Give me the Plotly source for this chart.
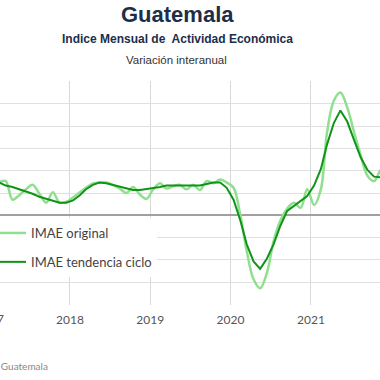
import plotly.graph_objects as go

months = ["2016-12"] + [f"{y}-{m:02d}" for y in range(2017, 2022) for m in range(1, 13)]
dates = [m + "-15" for m in months]

imae_original = [
    4.0,
    4.3, 4.5, 4.6, 2.1, 2.7, 3.5, 4.1, 2.9, 1.7, 3.1, 1.7, 1.8,
    2.4, 3.1, 3.7, 4.3, 4.4, 4.4, 4.1, 3.6, 3.0, 3.8, 2.8, 2.2,
    3.5, 4.3, 3.6, 3.9, 4.1, 3.5, 4.1, 3.4, 4.6, 4.3, 4.8, 4.4,
    3.7, 0.0, -4.8, -8.6, -9.8, -7.7, -3.5, -0.7, 0.9, 1.7, 1.0, 3.5,
    1.4, 3.5, 11.1, 15.4, 16.5, 14.5, 11.3, 8.1, 5.3, 4.6, 6.1, 6.4,
]
imae_tendencia = [
    4.9,
    4.7, 4.4, 4.0, 3.8, 3.5, 3.2, 2.9, 2.5, 2.2, 2.0, 1.7, 1.7,
    2.0, 2.7, 3.5, 4.1, 4.4, 4.3, 4.1, 3.8, 3.6, 3.4, 3.4, 3.5,
    3.7, 3.8, 4.0, 4.0, 4.1, 4.1, 4.1, 4.0, 4.2, 4.4, 4.4, 3.7,
    2.1, -0.7, -3.9, -6.2, -7.2, -5.8, -3.9, -1.4, 0.6, 1.3, 1.9, 2.6,
    4.0, 6.2, 9.5, 12.4, 14.1, 12.6, 10.2, 7.8, 6.1, 5.2, 5.1, 5.3,
]

names = ["IMAE original", "IMAE tendencia ciclo"]
title = "Guatemala"
subtitle = "Indice Mensual de  Actividad Económica"
subsubtitle = "Variación interanual"
source = "Fuente: Banco de Guatemala"
first_year_label = "2017"

W, H = 380, 380
L, R, T, B = 0, 0, 81, 75
PH = H - T - B

def px(x):
    return x / W

def py(y):
    return (H - B - y) / PH

fig = go.Figure()
fig.add_trace(go.Scatter(
    x=dates, y=imae_original, name=names[0], mode="lines",
    line=dict(color="#8fdf8f", width=2.5, shape="spline", smoothing=1),
    legendgroup="a",
))
fig.add_trace(go.Scatter(
    x=dates, y=imae_tendencia, name=names[1], mode="lines",
    line=dict(color="#109418", width=2),
    legendgroup="b",
))

tick_font = dict(family="Lato, sans-serif", size=12, color="#555555")

fig.update_layout(
    width=W, height=H,
    margin=dict(l=L, r=R, t=T, b=B, autoexpand=False),
    paper_bgcolor="white", plot_bgcolor="white",
    showlegend=True,
    legend=dict(
        x=px(-9), y=py(218), xanchor="left", yanchor="top",
        bgcolor="white", font=dict(family="Lato, sans-serif", size=13, color="#444444"),
        tracegroupgap=9, itemwidth=30,
    ),
    xaxis=dict(
        range=["2017-02-17", "2021-11-11"], type="date",
        dtick="M12", tick0="2017-01-01", tickformat="%Y",
        showgrid=True, gridcolor="#d9d9d9", gridwidth=1,
        tickfont=tick_font, ticks="outside", ticklen=4, tickcolor="rgba(0,0,0,0)",
        zeroline=False, showline=False,
    ),
    yaxis=dict(
        range=[-12.05, 18.05], tick0=0, dtick=3, showticklabels=False,
        showgrid=True, gridcolor="#e0e0e0", gridwidth=1,
        zeroline=True, zerolinecolor="#a0a0a0", zerolinewidth=1.5,
        showline=False, ticks="",
    ),
    annotations=[
        dict(text=f"<b>{title}</b>", x=px(177), y=py(15), xref="paper", yref="paper",
             showarrow=False, xanchor="center", yanchor="middle",
             font=dict(family="Liberation Sans, Arial, sans-serif", size=22, color="#1c2e4a")),
        dict(text=f"<b>{subtitle}</b>", x=px(177), y=py(39), xref="paper", yref="paper",
             showarrow=False, xanchor="center", yanchor="middle",
             font=dict(family="Liberation Sans, Arial, sans-serif", size=12, color="#1c2e4a")),
        dict(text=subsubtitle, x=px(176), y=py(60), xref="paper", yref="paper",
             showarrow=False, xanchor="center", yanchor="middle",
             font=dict(family="Liberation Sans, Arial, sans-serif", size=11.5, color="#333333")),
        dict(text=first_year_label, x=px(-10), y=py(318), xref="paper", yref="paper",
             showarrow=False, xanchor="center", yanchor="middle", font=tick_font),
        dict(text=source, x=px(50), y=py(366), xref="paper", yref="paper",
             showarrow=False, xanchor="right", yanchor="middle",
             font=dict(family="Lato, sans-serif", size=10, color="#888888")),
    ],
)

fig.write_html(
    "out.html",
    config={"displayModeBar": False},
    post_script="document.body.style.margin='0';document.body.style.overflow='hidden';",
)
